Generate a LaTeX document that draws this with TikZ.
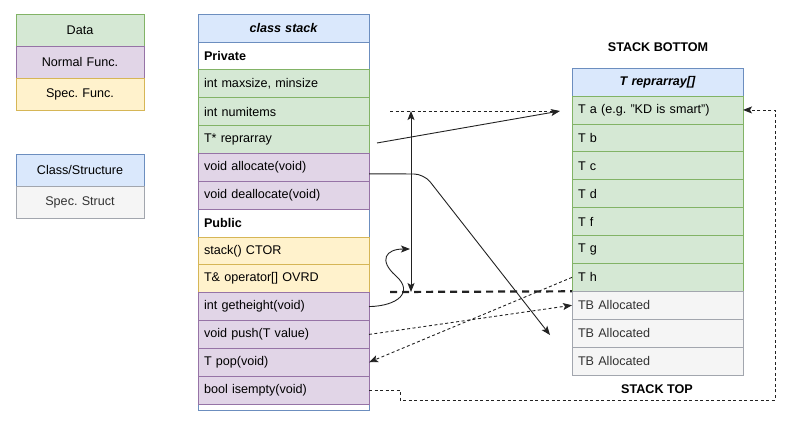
\documentclass[tikz,border=0pt]{standalone}
\usepackage{fontspec}
\setmainfont{Liberation Sans}
\usetikzlibrary{arrows.meta}
\frenchspacing
\definecolor{gfill}{HTML}{D5E8D4}\definecolor{gline}{HTML}{82B366}
\definecolor{pfill}{HTML}{E1D5E7}\definecolor{pline}{HTML}{9673A6}
\definecolor{yfill}{HTML}{FFF2CC}\definecolor{yline}{HTML}{D6B656}
\definecolor{bfill}{HTML}{DAE8FC}\definecolor{bline}{HTML}{6C8EBF}
\definecolor{sfill}{HTML}{F5F5F5}\definecolor{sline}{HTML}{A2A6AE}
\definecolor{stext}{HTML}{333333}
\definecolor{lcol}{HTML}{222222}
\tikzset{
  base/.style={anchor=north west, outer sep=0pt, inner ysep=0pt, line width=0.8pt,
    font=\fontsize{12.6}{14}\selectfont},
  cell/.style={base, text width=159pt, inner xsep=6pt, align=left, minimum height=27.85pt},
  acell/.style={cell, minimum height=27.9pt},
  leg/.style={base, text width=116pt, inner xsep=6pt, align=center, minimum height=32pt},
  hdr/.style={base, text width=159pt, inner xsep=6pt, align=center, minimum height=28pt,
    draw=bline, fill=bfill, font=\fontsize{12.6}{14}\selectfont\bfseries\itshape},
  gcell/.style={draw=gline, fill=gfill},
  pcell/.style={draw=pline, fill=pfill},
  ycell/.style={draw=yline, fill=yfill},
  bcell/.style={draw=bline, fill=bfill},
  scell/.style={draw=sline, fill=sfill, text=stext},
  wcell/.style={font=\fontsize{12.6}{14}\selectfont\bfseries},
  conn/.style={draw=lcol, line width=0.9pt, -{Stealth[length=9pt,width=7pt,inset=2pt]}},
  dotarrow/.style={conn, dash pattern=on 3pt off 2.5pt},
  dotline/.style={draw=lcol, line width=0.9pt, dash pattern=on 3pt off 2.5pt},
  thickdash/.style={draw=lcol, line width=2.2pt, dash pattern=on 7pt off 5pt},
  title/.style={font=\fontsize{12.6}{14}\selectfont\bfseries},
}
\begin{document}
\begin{tikzpicture}[x=1pt,y=-1pt]
\useasboundingbox (0,0) rectangle (797,424);
% legend
\node[leg, gcell] (lData) at (16,14) {Data};
\node[leg, pcell] (lNorm) at (lData.south west) {Normal Func.};
\node[leg, ycell] (lSpec) at (lNorm.south west) {Spec. Func.};
\node[leg, bcell] (lClass) at (16,154) {Class/Structure};
\node[leg, scell] (lStruct) at (lClass.south west) {Spec. Struct};
% class stack
\draw[draw=bline, fill=white, line width=0.8pt] (198,14) rectangle (369,410);
\node[hdr] (sh) at (198,14) {class stack};
\node[cell, wcell] (sPriv) at (sh.south west) {Private};
\node[cell, gcell] (sMax) at (sPriv.south west) {int maxsize, minsize};
\node[cell, gcell] (sNum) at (sMax.south west) {int numitems};
\node[cell, gcell] (sRep) at (sNum.south west) {T* reprarray};
\node[cell, pcell] (sAlloc) at (sRep.south west) {void allocate(void)};
\node[cell, pcell] (sDealloc) at (sAlloc.south west) {void deallocate(void)};
\node[cell, wcell] (sPub) at (sDealloc.south west) {Public};
\node[cell, ycell] (sCtor) at (sPub.south west) {stack() CTOR};
\node[cell, ycell] (sOp) at (sCtor.south west) {T\& operator[] OVRD};
\node[cell, pcell] (sHeight) at (sOp.south west) {int getheight(void)};
\node[cell, pcell] (sPush) at (sHeight.south west) {void push(T value)};
\node[cell, pcell] (sPop) at (sPush.south west) {T pop(void)};
\node[cell, pcell] (sEmpty) at (sPop.south west) {bool isempty(void)};
% array
\node[title] (tBottom) at (658,47) {STACK BOTTOM};
\node[hdr] (ah) at (572,68) {T reprarray[]};
\node[acell, gcell] (aA) at (ah.south west) {T a (e.g. "KD is smart")};
\node[acell, gcell] (aB) at (aA.south west) {T b};
\node[acell, gcell] (aC) at (aB.south west) {T c};
\node[acell, gcell] (aD) at (aC.south west) {T d};
\node[acell, gcell] (aF) at (aD.south west) {T f};
\node[acell, gcell] (aG) at (aF.south west) {T g};
\node[acell, gcell] (aH) at (aG.south west) {T h};
\node[acell, scell] (aT1) at (aH.south west) {TB Allocated};
\node[acell, scell] (aT2) at (aT1.south west) {TB Allocated};
\node[acell, scell] (aT3) at (aT2.south west) {TB Allocated};
\node[title] (tTop) at (657,389) {STACK TOP};
% helper points
\coordinate (tipA) at (560,111);
\coordinate (dstart) at (390,111);
\coordinate (vtop) at (411,111);
\coordinate (vbot) at (411,292);
\coordinate (vmid) at (410,249);
\coordinate (hstart) at (390,292);
\coordinate (bend) at (424,174);
\coordinate (tipB) at (550,335);
\coordinate (e1) at (400,400);
\coordinate (e2) at (775,400);
% connectors
\draw[dotline] (dstart) -- (tipA);
\draw[conn] ([shift={(8pt,-3.5pt)}]sRep.east) -- (tipA);
\draw[conn, {Stealth[length=9pt,width=7pt,inset=2pt]}-{Stealth[length=9pt,width=7pt,inset=2pt]}] (vtop) -- (vbot);
\draw[thickdash] (hstart) -- (aT1.north west);
\draw[conn] (sHeight.east) .. controls (398,306) and (414,292) .. (396,276)
  .. controls (378,260) and (386,249) .. (vmid);
\draw[conn, rounded corners=10pt] ([yshift=-6.5pt]sAlloc.east) -- (bend) -- (tipB);
\draw[dotarrow] (sPush.east) -- (aT1.west);
\draw[dotarrow] (aH.west) -- (sPop.east);
\draw[dotarrow] (sEmpty.east) -| (e1) -- (e2) |- (aA.east);
\end{tikzpicture}
\end{document}
